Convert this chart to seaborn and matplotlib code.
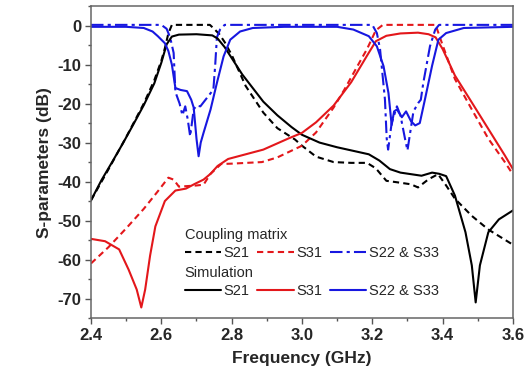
import numpy as np
import pandas as pd
import seaborn as sns
import matplotlib.pyplot as plt
from matplotlib.lines import Line2D
from matplotlib.ticker import MultipleLocator, FormatStrFormatter

# Simulation S21 (black solid)
sim_s21_f = [2.40, 2.43, 2.46, 2.49, 2.52, 2.55, 2.58, 2.60, 2.615, 2.63, 2.65, 2.70, 2.745, 2.76,
             2.78, 2.80, 2.83, 2.86, 2.89, 2.93, 2.97, 3.00, 3.05, 3.10, 3.15, 3.19, 3.22, 3.25,
             3.28, 3.31, 3.34, 3.37, 3.39, 3.41, 3.435, 3.465, 3.483, 3.494, 3.506, 3.53, 3.56, 3.60]
sim_s21_db = [-44.8, -39.6, -35.0, -30.3, -25.4, -20.4, -14.8, -9.5, -4.8, -2.8, -2.3, -2.2, -2.5, -3.3,
              -5.5, -8.3, -12.5, -16.0, -19.5, -23.0, -26.0, -28.0, -30.0, -31.2, -32.2, -33.0, -34.6, -36.8,
              -37.7, -38.1, -38.5, -37.7, -38.0, -38.6, -43.6, -53.0, -61.5, -71.0, -61.5, -53.0, -49.7, -47.4]

# Coupling matrix S21 (black dashed)
cm_s21_f = [2.40, 2.45, 2.50, 2.55, 2.58, 2.60, 2.61, 2.62, 2.63, 2.70, 2.738, 2.75, 2.765, 2.78,
            2.80, 2.84, 2.89, 2.93, 2.98, 3.00, 3.04, 3.09, 3.14, 3.185, 3.21, 3.24, 3.28, 3.31,
            3.33, 3.36, 3.387, 3.41, 3.435, 3.483, 3.53, 3.60]
cm_s21_db = [-44.8, -36.8, -28.6, -20.0, -14.0, -9.0, -5.8, -2.0, 0.2, 0.2, 0.2, -0.8, -2.2, -4.2,
             -7.5, -15.5, -22.3, -26.3, -29.2, -30.8, -33.6, -35.0, -35.2, -35.2, -36.6, -39.8, -40.3, -40.7,
             -41.5, -39.4, -38.1, -41.0, -44.4, -48.8, -52.3, -56.2]

# Simulation S31 (red solid)
sim_s31_f = [2.40, 2.44, 2.48, 2.507, 2.53, 2.543, 2.554, 2.568, 2.583, 2.61, 2.64, 2.67, 2.695, 2.72,
             2.74, 2.76, 2.79, 2.84, 2.89, 2.93, 2.96, 3.00, 3.04, 3.09, 3.14, 3.185, 3.21, 3.24,
             3.28, 3.33, 3.36, 3.38, 3.40, 3.435, 3.483, 3.53, 3.577, 3.60]
sim_s31_db = [-54.7, -55.3, -57.4, -62.6, -67.7, -72.3, -67.7, -59.0, -51.5, -45.0, -42.3, -41.8, -40.6, -39.5,
              -38.0, -36.0, -34.2, -33.0, -31.8, -30.2, -29.0, -27.5, -24.8, -20.5, -14.5, -7.7, -4.0, -2.6,
              -2.0, -1.8, -2.2, -3.0, -6.0, -12.8, -19.7, -26.5, -33.3, -36.8]

# Coupling matrix S31 (red dashed)
cm_s31_f = [2.40, 2.45, 2.50, 2.55, 2.59, 2.62, 2.635, 2.65, 2.70, 2.72, 2.74, 2.77, 2.80, 2.886,
            2.93, 3.00, 3.04, 3.09, 3.12, 3.16, 3.185, 3.21, 3.23, 3.38, 3.40, 3.435, 3.483, 3.53,
            3.577, 3.60]
cm_s31_db = [-61.0, -56.8, -52.0, -47.0, -42.5, -39.0, -39.5, -41.3, -41.0, -40.8, -38.0, -35.5, -35.4, -35.0,
             -33.8, -30.8, -27.4, -21.0, -16.5, -10.0, -6.0, -1.2, 0.2, 0.2, -5.0, -13.7, -21.5, -29.0,
             -35.0, -38.2]

# Simulation S22 & S33 (blue solid)
sim_s22_f = [2.40, 2.50, 2.55, 2.575, 2.59, 2.61, 2.62, 2.63, 2.64, 2.655, 2.673, 2.685, 2.692, 2.70,
             2.706, 2.712, 2.72, 2.74, 2.758, 2.777, 2.796, 2.824, 2.86, 2.95, 3.10, 3.146, 3.19, 3.213,
             3.232, 3.246, 3.255, 3.262, 3.27, 3.284, 3.296, 3.31, 3.322, 3.335, 3.35, 3.37, 3.388, 3.41,
             3.46, 3.60]
sim_s22_db = [-0.3, -0.3, -0.6, -1.5, -2.7, -4.5, -6.5, -10.0, -16.0, -16.5, -16.8, -19.0, -21.0, -29.0,
              -33.5, -30.0, -27.5, -21.5, -14.7, -7.9, -3.6, -1.5, -0.6, -0.3, -0.3, -1.0, -2.7, -5.3,
              -10.4, -17.3, -25.5, -22.0, -21.5, -23.5, -22.0, -24.5, -25.6, -25.0, -18.8, -10.3, -3.6, -1.9,
              -0.6, -0.3]

# Coupling matrix S22 & S33 (blue dash-dot)
cm_s22_f = [2.40, 2.60, 2.615, 2.625, 2.635, 2.64, 2.652, 2.66, 2.668, 2.675, 2.682, 2.692, 2.70, 2.711,
            2.73, 2.748, 2.753, 2.758, 2.767, 2.78, 3.20, 3.213, 3.222, 3.236, 3.241, 3.245, 3.255, 3.27,
            3.28, 3.293, 3.30, 3.317, 3.331, 3.338, 3.345, 3.364, 3.379, 3.39, 3.60]
cm_s22_db = [0.2, 0.2, -0.8, -3.0, -7.0, -17.0, -20.0, -23.0, -20.7, -24.0, -28.4, -21.5, -20.5, -20.7,
             -18.5, -16.4, -10.4, -3.0, -1.0, 0.2, 0.2, -1.9, -6.0, -19.0, -29.0, -31.8, -25.0, -20.7,
             -23.0, -29.0, -32.0, -22.0, -19.8, -19.0, -14.7, -5.3, -1.0, 0.2, 0.2]

black = 'black'
red = '#e3171b'
blue = '#1717e0'

sns.set_style('ticks')
plt.rcParams['font.family'] = ['Liberation Sans', 'DejaVu Sans']
plt.rcParams['axes.unicode_minus'] = False

fig = plt.figure(figsize=(5.31, 3.85), dpi=100)
ax = fig.add_axes([0.1714, 0.174, 0.7946, 0.810])

lw = 1.5
dash = (3, 2)
dashdot = (6, 2, 1.5, 2)

sns.lineplot(x=cm_s21_f, y=cm_s21_db, ax=ax, color=black, lw=lw, linestyle=(0, dash))
sns.lineplot(x=cm_s31_f, y=cm_s31_db, ax=ax, color=red, lw=lw, linestyle=(0, dash))
sns.lineplot(x=cm_s22_f, y=cm_s22_db, ax=ax, color=blue, lw=lw, linestyle=(0, dashdot))
sns.lineplot(x=sim_s21_f, y=sim_s21_db, ax=ax, color=black, lw=lw)
sns.lineplot(x=sim_s31_f, y=sim_s31_db, ax=ax, color=red, lw=lw)
sns.lineplot(x=sim_s22_f, y=sim_s22_db, ax=ax, color=blue, lw=lw)

ax.set_xlim(2.4, 3.6)
ax.set_ylim(-75, 5)
ax.xaxis.set_major_locator(MultipleLocator(0.2))
ax.xaxis.set_minor_locator(MultipleLocator(0.1))
ax.xaxis.set_major_formatter(FormatStrFormatter('%.1f'))
ax.yaxis.set_major_locator(MultipleLocator(10))
ax.yaxis.set_minor_locator(MultipleLocator(5))
ax.yaxis.set_major_formatter(FormatStrFormatter('%d'))
ax.tick_params(which='major', direction='out', length=4, width=1, color='#555555',
               labelsize=12, pad=3)
ax.tick_params(which='minor', direction='out', length=2.5, width=1, color='#555555')
for sp in ax.spines.values():
    sp.set_color('#666666')
    sp.set_linewidth(1.1)

ax.set_xlabel('Frequency (GHz)', fontsize=12.5, fontweight='bold', labelpad=6)
ax.set_ylabel('S-parameters (dB)', fontsize=12.5, fontweight='bold', labelpad=4)

# legend: two header rows with three entries each
cm_handles = [Line2D([], [], color=black, lw=lw, linestyle=(0, dash)),
              Line2D([], [], color=red, lw=lw, linestyle=(0, dash)),
              Line2D([], [], color=blue, lw=lw, linestyle=(0, dashdot))]
sim_handles = [Line2D([], [], color=black, lw=lw),
               Line2D([], [], color=red, lw=lw),
               Line2D([], [], color=blue, lw=lw)]
names = ['S21', 'S31', 'S22 & S33']

legkw = dict(ncol=3, frameon=False, fontsize=10.5, handlelength=2.5, handletextpad=0.15,
             columnspacing=0.55, borderpad=0, borderaxespad=0, loc='center left')
ax.text(0.222, 0.266, 'Coupling matrix', transform=ax.transAxes, fontsize=10.5, va='center')
leg1 = ax.legend(cm_handles, names, bbox_to_anchor=(0.222, 0.208), **legkw)
ax.add_artist(leg1)
ax.text(0.222, 0.144, 'Simulation', transform=ax.transAxes, fontsize=10.5, va='center')
ax.legend(sim_handles, names, bbox_to_anchor=(0.222, 0.087), **legkw)

fig.canvas.draw()
for lab in ax.get_xticklabels() + ax.get_yticklabels():
    lab.set_fontweight('bold')

fig.savefig('out.png', dpi=100)
